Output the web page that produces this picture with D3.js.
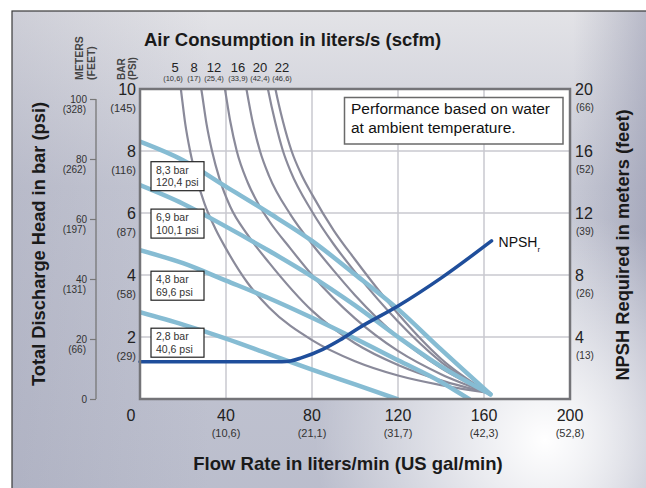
<!DOCTYPE html>
<html>
<head>
<meta charset="utf-8">
<script src="https://cdn.jsdelivr.net/npm/d3@7/dist/d3.min.js"></script>
<style>
  body { margin: 0; }
  svg { display: block; font-family: "Liberation Sans", Arial, sans-serif; }
</style>
</head>
<body>
<svg id="chart" width="646" height="488"></svg>
<script>
// ---- data ----
const flowTicks = [40, 80, 120, 160, 200];
const flowGal = ["(10,6)", "(21,1)", "(31,7)", "(42,3)", "(52,8)"];
const barTicks = [2, 4, 6, 8, 10];
const barPsi = ["(29)", "(58)", "(87)", "(116)", "(145)"];
const meterTicks = [0, 20, 40, 60, 80, 100];
const meterFeet = ["", "(66)", "(131)", "(197)", "(262)", "(328)"];
const npshTicks = [4, 8, 12, 16, 20];
const npshFeet = ["(13)", "(26)", "(39)", "(52)", "(66)"];
const airLabels = ["5", "8", "12", "16", "20", "22"];
const airScfm = ["(10,6)", "(17)", "(25,4)", "(33,9)", "(42,4)", "(46,6)"];
const pressureBar = [8.3, 6.9, 4.8, 2.8];
const pressureText = [["8,3 bar", "120,4 psi"], ["6,9 bar", "100,1 psi"], ["4,8 bar", "69,6 psi"], ["2,8 bar", "40,6 psi"]];

// air consumption curves [flow l/min, head bar]
const air5 = [[17.5,10.8],[19,10],[21,8.9],[23.3,8],[26,7.2],[30,6.3],[35,5.5],[40,4.85],[50,3.75],[60,2.95],[80,1.9],[100,1.22],[120,0.76],[140,0.45],[162,0.2]];
const air8 = [[27,10.6],[28.5,10],[31,8.85],[33.5,8],[37,7.1],[42,6.2],[50,5.3],[60,4.4],[80,2.85],[100,1.8],[120,1.1],[140,0.6],[162,0.2]];
const air12 = [[38,10.6],[39.5,10],[42,8.95],[45,8],[50,7.0],[55,6.3],[60,5.75],[70,4.85],[80,4.0],[100,2.6],[120,1.55],[140,0.8],[162,0.2]];
const air16 = [[48,10.6],[49.5,10],[52.5,8.9],[55.8,8],[60,7.2],[70,5.95],[80,5.0],[90,4.15],[100,3.35],[120,2.0],[140,1.0],[162,0.2]];
const air20 = [[58,10.55],[59.5,10],[63,8.9],[66.5,8],[70,7.35],[80,6.05],[90,5.0],[100,4.1],[120,2.5],[140,1.2],[162,0.2]];
const air22 = [[61.5,10.55],[63,10],[66.5,8.95],[70.5,8],[75,7.25],[80,6.6],[90,5.45],[100,4.5],[120,2.75],[140,1.3],[162,0.2]];

// air inlet pressure curves [flow, head bar]
const p83 = [[0,8.3],[20,7.7],[40,6.85],[60,6.0],[80,5.1],[100,4.02],[120,2.9],[140,1.6],[163,0.15]];
const p69 = [[0,6.9],[20,6.3],[40,5.56],[60,4.78],[80,3.95],[100,3.02],[120,2.0],[140,1.05],[163,0.15]];
const p48 = [[0,4.8],[20,4.38],[40,3.82],[60,3.25],[80,2.62],[100,1.95],[120,1.25],[140,0.55],[153,0]];
const p28 = [[0,2.8],[20,2.4],[40,1.95],[60,1.45],[80,0.95],[100,0.47],[119.5,0]];

// NPSHr [flow, meters]
const npsh = [[0,2.4],[66,2.4],[70,2.45],[75,2.65],[85,3.2],[93,3.8],[102,4.6],[120,6.0],[140,7.8],[163.5,10.2]];

// ---- layout ----
const svg = d3.select("#chart");
const pL = 140, pR = 570, pT = 89, pB = 399;

const x = d3.scaleLinear().domain([0, 200]).range([pL, pR]);
const y = d3.scaleLinear().domain([0, 10]).range([pB, pT]);
const yM = d3.scaleLinear().domain([0, 100]).range([pB, 99]);
const yN = d3.scaleLinear().domain([0, 20]).range([pB, pT]);

// background
const defs = svg.append("defs");
const lg = defs.append("linearGradient").attr("id", "bgv").attr("x1", 0).attr("y1", 0).attr("x2", 0).attr("y2", 1);
lg.append("stop").attr("offset", "0%").attr("stop-color", "#e3e3e7");
lg.append("stop").attr("offset", "35%").attr("stop-color", "#c6c8d4");
lg.append("stop").attr("offset", "100%").attr("stop-color", "#babdcc");
const rg = defs.append("radialGradient").attr("id", "glow")
  .attr("cx", 545).attr("cy", 440).attr("r", 230).attr("gradientUnits", "userSpaceOnUse");
rg.append("stop").attr("offset", "0%").attr("stop-color", "#ffffff").attr("stop-opacity", 1);
rg.append("stop").attr("offset", "45%").attr("stop-color", "#ffffff").attr("stop-opacity", 0.55);
rg.append("stop").attr("offset", "100%").attr("stop-color", "#ffffff").attr("stop-opacity", 0);
const rs = defs.append("linearGradient").attr("id", "edge").attr("x1", 0).attr("y1", 0).attr("x2", 1).attr("y2", 0);
rs.append("stop").attr("offset", "0%").attr("stop-color", "#8e91a8").attr("stop-opacity", 0.25);
rs.append("stop").attr("offset", "30%").attr("stop-color", "#8e91a8").attr("stop-opacity", 0);
rs.append("stop").attr("offset", "85%").attr("stop-color", "#8e91a8").attr("stop-opacity", 0);
rs.append("stop").attr("offset", "100%").attr("stop-color", "#7e82a0").attr("stop-opacity", 0.6);

svg.append("rect").attr("width", 646).attr("height", 488).attr("fill", "#ffffff");
svg.append("rect").attr("x", 12).attr("y", 11).attr("width", 660).attr("height", 500).attr("fill", "url(#bgv)");
svg.append("rect").attr("x", 12).attr("y", 11).attr("width", 660).attr("height", 500).attr("fill", "url(#edge)");
svg.append("rect").attr("x", 12).attr("y", 11).attr("width", 660).attr("height", 500).attr("fill", "url(#glow)");
svg.append("rect").attr("x", 12).attr("y", 11).attr("width", 660).attr("height", 500)
  .attr("fill", "none").attr("stroke", "#3a3a3a").attr("stroke-width", 1.2);

// plot area
svg.append("rect").attr("x", pL).attr("y", pT).attr("width", pR - pL).attr("height", pB - pT).attr("fill", "#fff");
defs.append("clipPath").attr("id", "clip").append("rect")
  .attr("x", pL).attr("y", pT).attr("width", pR - pL).attr("height", pB - pT);

const grid = svg.append("g").attr("stroke", "#c9c9cf").attr("stroke-width", 1.5);
grid.selectAll(".gx").data(flowTicks.slice(0, 4)).join("line")
  .attr("x1", d => x(d)).attr("x2", d => x(d)).attr("y1", pT).attr("y2", pB);
grid.selectAll(".gy").data(barTicks.slice(0, 4)).join("line")
  .attr("x1", pL).attr("x2", pR).attr("y1", d => y(d)).attr("y2", d => y(d));

const line = d3.line().x(d => x(d[0])).y(d => y(d[1])).curve(d3.curveMonotoneX);
const plot = svg.append("g").attr("clip-path", "url(#clip)");

plot.selectAll(".air").data([air5, air8, air12, air16, air20, air22]).join("path")
  .attr("d", line).attr("fill", "none").attr("stroke", "#8a8a9a").attr("stroke-width", 2.2);

plot.selectAll(".pr").data([p83, p69, p48, p28]).join("path")
  .attr("d", line).attr("fill", "none").attr("stroke", "#86bcd3").attr("stroke-width", 4.5)
  .attr("stroke-linecap", "round");

const npshLine = d3.line().x(d => x(d[0])).y(d => yN(d[1])).curve(d3.curveMonotoneX);
svg.append("path").datum(npsh).attr("d", npshLine).attr("fill", "none")
  .attr("stroke", "#1f4e9b").attr("stroke-width", 3.5).attr("stroke-linecap", "round");

const last = npsh[npsh.length - 1];
const nl = svg.append("text").attr("x", x(last[0]) + 7).attr("y", yN(last[1]) + 6)
  .attr("font-size", 14).attr("fill", "#111");
nl.append("tspan").text("NPSH");
nl.append("tspan").attr("font-size", 8).attr("dy", 5).text("r");

// plot border
svg.append("rect").attr("x", pL).attr("y", pT).attr("width", pR - pL).attr("height", pB - pT)
  .attr("fill", "none").attr("stroke", "#747478").attr("stroke-width", 2.5);

// pressure label boxes (pixel drop below each curve's start)
const boxDrop = [20, 24, 21, 16];
const boxes = svg.selectAll(".pbox").data(pressureBar).join("g")
  .attr("transform", (d, i) => `translate(${pL + 11},${y(d) + boxDrop[i]})`);
boxes.append("rect").attr("width", 53).attr("height", 29).attr("fill", "#fff")
  .attr("stroke", "#222").attr("stroke-width", 1.2);
boxes.each(function(d, i) {
  const g = d3.select(this);
  pressureText[i].forEach((t, j) => {
    g.append("text").attr("x", 5).attr("y", 12 + j * 12.5).attr("font-size", 10.5)
      .attr("fill", "#333").text(t);
  });
});

// info box
svg.append("rect").attr("x", 344.5).attr("y", 97.5).attr("width", 218.5).attr("height", 46.5)
  .attr("fill", "#fff").attr("stroke", "#6a6a6a").attr("stroke-width", 1.5);
svg.append("text").attr("x", 351).attr("y", 114).attr("font-size", 15.5).attr("fill", "#111")
  .text("Performance based on water");
svg.append("text").attr("x", 351).attr("y", 133).attr("font-size", 15.5).attr("fill", "#111")
  .text("at ambient temperature.");

// bottom axis labels
svg.append("text").attr("x", x(0) - 9).attr("y", 421).attr("text-anchor", "middle")
  .attr("font-size", 16).attr("fill", "#222").text("0");
svg.selectAll(".xt").data(flowTicks).join("text")
  .attr("x", d => x(d)).attr("y", 421).attr("text-anchor", "middle")
  .attr("font-size", 16).attr("fill", "#222").text(d => d);
svg.selectAll(".xg").data(flowGal).join("text")
  .attr("x", (d, i) => x(flowTicks[i])).attr("y", 437).attr("text-anchor", "middle")
  .attr("font-size", 11).attr("fill", "#333").text(d => d);

// inner left axis (bar / psi)
svg.selectAll(".yt").data(barTicks).join("text")
  .attr("x", 136).attr("y", d => y(d) + 6).attr("text-anchor", "end")
  .attr("font-size", 16).attr("fill", "#222").text(d => d);
svg.selectAll(".yp").data(barPsi).join("text")
  .attr("x", 136).attr("y", (d, i) => y(barTicks[i]) + 23).attr("text-anchor", "end")
  .attr("font-size", 11).attr("fill", "#333").text(d => d);

// outer left axis (meters / feet)
const mAxis = svg.append("g").attr("transform", "translate(96,0)")
  .call(d3.axisLeft(yM).tickValues(meterTicks).tickSize(6).tickPadding(3));
mAxis.select(".domain").attr("stroke", "#777").attr("stroke-width", 1.3).attr("d", `M0,${yM(100)}V${yM(0)}`);
mAxis.selectAll(".tick line").attr("stroke", "#777").attr("stroke-width", 1.2);
mAxis.selectAll(".tick text").attr("font-size", 10).attr("fill", "#333").attr("font-family", "Liberation Sans, Arial, sans-serif");
svg.selectAll(".mf").data(meterFeet).join("text")
  .attr("x", 86).attr("y", (d, i) => yM(meterTicks[i]) + 14).attr("text-anchor", "end")
  .attr("font-size", 10).attr("fill", "#333").text(d => d);

// right axis (NPSH)
svg.selectAll(".nt").data(npshTicks).join("text")
  .attr("x", 575).attr("y", d => yN(d) + 6)
  .attr("font-size", 16).attr("fill", "#222").text(d => d);
svg.selectAll(".nf").data(npshFeet).join("text")
  .attr("x", 576).attr("y", (d, i) => yN(npshTicks[i]) + 22)
  .attr("font-size", 10).attr("fill", "#333").text(d => d);

// air consumption labels across the top
const airMain = [175, 194, 214, 238, 260, 282];
svg.selectAll(".al").data(airLabels).join("text")
  .attr("x", (d, i) => airMain[i]).attr("y", 72).attr("text-anchor", "middle")
  .attr("font-size", 13).attr("fill", "#222").text(d => d);
svg.selectAll(".as").data(airScfm).join("text")
  .attr("x", (d, i) => airMain[i] - (i === 0 ? 2 : 0)).attr("y", 81).attr("text-anchor", "middle")
  .attr("font-size", 7.5).attr("fill", "#333").text(d => d);

// small rotated unit headers
function vtext(tx, ty, txt, size) {
  svg.append("text").attr("transform", `translate(${tx},${ty}) rotate(-90)`)
    .attr("font-size", size).attr("font-weight", "bold").attr("fill", "#444").text(txt);
}
vtext(83, 80, "METERS", 10.5);
vtext(95, 80, "(FEET)", 10.5);
vtext(125, 80, "BAR", 10);
vtext(136, 80, "(PSI)", 10);

// titles
svg.append("text").attr("x", 144).attr("y", 46).attr("font-size", 18.5).attr("font-weight", "bold")
  .attr("fill", "#1a1a1a").text("Air Consumption in liters/s (scfm)");
svg.append("text").attr("x", 348).attr("y", 470).attr("text-anchor", "middle").attr("font-size", 18.5)
  .attr("font-weight", "bold").attr("fill", "#1a1a1a").text("Flow Rate in liters/min (US gal/min)");
svg.append("text").attr("transform", "translate(45,244) rotate(-90)").attr("text-anchor", "middle")
  .attr("font-size", 18.3).attr("font-weight", "bold").attr("fill", "#1a1a1a")
  .text("Total Discharge Head in bar (psi)");
svg.append("text").attr("transform", "translate(629,245) rotate(-90)").attr("text-anchor", "middle")
  .attr("font-size", 18.3).attr("font-weight", "bold").attr("fill", "#1a1a1a")
  .text("NPSH Required in meters (feet)");
</script>
</body>
</html>
